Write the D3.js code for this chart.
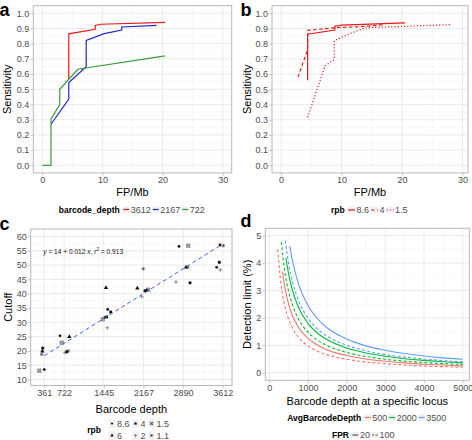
<!DOCTYPE html>
<html><head><meta charset="utf-8">
<script src="https://cdn.jsdelivr.net/npm/d3@7"></script>
<style>body{margin:0;background:#fff}svg{display:block}</style>
</head><body><svg id="chart" width="472" height="440"></svg>
<script>
// ---------- DATA ----------
// Panel a: sensitivity vs FP/Mb by barcode depth
const aDepths = ["3612", "2167", "722"];
const aFP_3612 = [4.4, 4.4, 8.8, 8.8, 9.7, 20.4];
const aSens_3612 = [0.565, 0.865, 0.895, 0.92, 0.928, 0.94];
const aFP_2167 = [1.45, 4.4, 4.4, 7.3, 7.3, 10.3, 13.2, 13.2, 19.0];
const aSens_2167 = [0.27, 0.435, 0.545, 0.648, 0.822, 0.866, 0.89, 0.91, 0.92];
const aFP_722 = [0, 1.45, 1.45, 2.9, 2.9, 5.9, 20.4];
const aSens_722 = [0, 0, 0.305, 0.4, 0.5, 0.632, 0.72];
const aXTicks = [0, 10, 20, 30];
const yTicksSens = [0, 0.1, 0.2, 0.3, 0.4, 0.5, 0.6, 0.7, 0.8, 0.9, 1.0];

// Panel b: sensitivity vs FP/Mb by rpb
const bRpb = ["8.6", "4", "1.5"];
const bFP_86 = [4.4, 4.4, 8.9, 8.9, 10, 20.5];
const bSens_86 = [0.56, 0.862, 0.89, 0.915, 0.922, 0.937];
const bFP_4 = [2.8, 4.4, 4.4, 9, 13, 17];
const bSens_4 = [0.58, 0.76, 0.888, 0.905, 0.912, 0.925];
const bFP_15 = [4.4, 7.3, 8.8, 8.8, 11.5, 14, 28];
const bSens_15 = [0.315, 0.655, 0.695, 0.82, 0.868, 0.905, 0.925];

// Panel c: cutoff vs barcode depth
const cXTicks = [361, 722, 1445, 2167, 2890, 3612];
const cYTicks = [10, 15, 20, 25, 30, 35, 40, 45, 50, 55, 60];
const cRpbLevels = ["8.6", "6", "4", "2", "1.5", "1.1"];
const cDepth = [361, 270, 332, 325, 314,
  647, 678, 817, 738, 769, 798,
  1485, 1516, 1571, 1425, 1467, 1498, 1509,
  2165, 2056, 2196, 2227, 2256, 2136,
  2815, 2985, 2943, 2974, 2761, 3016,
  3563, 3623, 3550, 3502, 3568];
const cCutoff = [13.5, 13.1, 21.0, 19.9, 18.8,
  25.3, 22.9, 25.0, 19.4, 19.7, 20.0,
  42.1, 34.5, 33.6, 31.05, 31.75, 31.85, 28.1,
  48.7, 41.9, 41.0, 41.2, 41.4, 38.9,
  56.5, 56.75, 49.2, 49.2, 44.1, 43.8,
  57.0, 56.75, 50.96, 49.2, 48.3];
const cRpb = ["8.6", "1.5", "4", "6", "1.1",
  "8.6", "1.5", "6", "2", "4", "1.1",
  "6", "8.6", "4", "1.5", "8.6", "4", "2",
  "1.1", "6", "4", "8.6", "1.5", "2",
  "8.6", "1.5", "6", "1.1", "2", "4",
  "8.6", "1.1", "4", "8.6", "2"];
const cFitIntercept = 14, cFitSlope = 0.012, cFitR2 = 0.913;
const cFitRange = [361, 3612];

// Panel d: detection limit vs barcode depth at locus
const dAvgDepth = ["500", "2000", "3500"];
const dFPR = ["20", "100"];
const dX_500_20 = [340, 400, 500, 600, 750, 1000, 1250, 1500, 2000, 2500, 3000, 3500, 4000, 4500, 5000];
const dY_500_20 = [3.68, 3.13, 2.50, 2.08, 1.67, 1.25, 1.00, 0.83, 0.63, 0.50, 0.42, 0.36, 0.31, 0.28, 0.25];
const dX_500_100 = [217, 300, 400, 500, 600, 750, 1000, 1250, 1500, 2000, 2500, 3000, 3500, 4000, 4500, 5000];
const dY_500_100 = [4.50, 3.26, 2.44, 1.95, 1.63, 1.30, 0.98, 0.78, 0.65, 0.49, 0.39, 0.33, 0.28, 0.24, 0.22, 0.20];
const dX_2000_20 = [430, 500, 600, 750, 1000, 1250, 1500, 2000, 2500, 3000, 3500, 4000, 4500, 5000];
const dY_2000_20 = [4.19, 3.60, 3.00, 2.40, 1.80, 1.44, 1.20, 0.90, 0.72, 0.60, 0.51, 0.45, 0.40, 0.36];
const dX_2000_100 = [310, 400, 500, 600, 750, 1000, 1250, 1500, 2000, 2500, 3000, 3500, 4000, 4500, 5000];
const dY_2000_100 = [4.77, 3.70, 2.96, 2.47, 1.97, 1.48, 1.18, 0.99, 0.74, 0.59, 0.49, 0.42, 0.37, 0.33, 0.30];
const dX_3500_20 = [530, 600, 750, 1000, 1250, 1500, 2000, 2500, 3000, 3500, 4000, 4500, 5000];
const dY_3500_20 = [4.62, 4.08, 3.27, 2.45, 1.96, 1.63, 1.23, 0.98, 0.82, 0.70, 0.61, 0.54, 0.49];
const dX_3500_100 = [413, 500, 600, 750, 1000, 1250, 1500, 2000, 2500, 3000, 3500, 4000, 4500, 5000];
const dY_3500_100 = [4.82, 3.98, 3.32, 2.65, 1.99, 1.59, 1.33, 1.00, 0.80, 0.66, 0.57, 0.50, 0.44, 0.40];
const dXTicks = [0, 1000, 2000, 3000, 4000, 5000];
const dYTicks = [0, 1, 2, 3, 4, 5];

// ---------- DRAWING ----------
const FONT = '"Liberation Sans", Arial, Helvetica, sans-serif';
const svg = d3.select("#chart");
const GRID_MAJ = "#E6E6E6", GRID_MIN = "#F2F2F2", BORDER = "#B8B8B8", TXT = "#4D4D4D";

function panel(p) {
  const g = svg.append("g");
  g.append("rect").attr("x", p.x0).attr("y", p.y0).attr("width", p.x1 - p.x0).attr("height", p.y1 - p.y0).attr("fill", "#fff");
  p.xMinor.forEach(v => g.append("line").attr("x1", p.xs(v)).attr("x2", p.xs(v)).attr("y1", p.y0).attr("y2", p.y1).attr("stroke", GRID_MIN).attr("stroke-width", 0.6));
  p.yMinor.forEach(v => g.append("line").attr("y1", p.ys(v)).attr("y2", p.ys(v)).attr("x1", p.x0).attr("x2", p.x1).attr("stroke", GRID_MIN).attr("stroke-width", 0.6));
  p.xMajor.forEach(v => g.append("line").attr("x1", p.xs(v)).attr("x2", p.xs(v)).attr("y1", p.y0).attr("y2", p.y1).attr("stroke", GRID_MAJ).attr("stroke-width", 0.8));
  p.yMajor.forEach(v => g.append("line").attr("y1", p.ys(v)).attr("y2", p.ys(v)).attr("x1", p.x0).attr("x2", p.x1).attr("stroke", GRID_MAJ).attr("stroke-width", 0.8));
  const style = s => {
    s.attr("font-family", FONT).attr("font-size", 9);
    s.select(".domain").remove();
    s.selectAll(".tick line").attr("stroke", BORDER).attr("stroke-width", 0.8);
    s.selectAll(".tick text").attr("fill", TXT);
  };
  g.append("g").attr("transform", `translate(0,${p.y1})`)
    .call(d3.axisBottom(p.xs).tickValues(p.xMajor).tickFormat(p.xFmt).tickSize(2.75).tickPadding(1.3)).call(style);
  g.append("g").attr("transform", `translate(${p.x0},0)`)
    .call(d3.axisLeft(p.ys).tickValues(p.yMajor).tickFormat(p.yFmt).tickSize(2.75).tickPadding(1.3)).call(style);
  svg.append("text").attr("x", (p.x0 + p.x1) / 2).attr("y", p.xTitleY).attr("text-anchor", "middle")
    .attr("font-family", FONT).attr("font-size", 11).attr("fill", "#000").text(p.xTitle);
  svg.append("text").attr("transform", `translate(${p.yTitleX},${(p.y0 + p.y1) / 2}) rotate(-90)`).attr("text-anchor", "middle")
    .attr("font-family", FONT).attr("font-size", 11).attr("fill", "#000").text(p.yTitle);
  p.g = g;
  return p;
}
function border(p) {
  svg.append("rect").attr("x", p.x0).attr("y", p.y0).attr("width", p.x1 - p.x0).attr("height", p.y1 - p.y0)
    .attr("fill", "none").attr("stroke", BORDER).attr("stroke-width", 1);
}
function letter(t, x, y) {
  svg.append("text").attr("x", x).attr("y", y).attr("font-family", FONT).attr("font-weight", "bold").attr("font-size", 18).text(t);
}
function mids(arr) { const r = []; for (let i = 0; i < arr.length - 1; i++) r.push((arr[i] + arr[i + 1]) / 2); return r; }

// Horizontal legend, centred at cx
function hLegend(cx, cy, title, labels, keyW, keyH, drawKey) {
  const g = svg.append("g");
  let x = 0;
  const tt = g.append("text").attr("x", 0).attr("y", cy + 3).attr("font-family", FONT).attr("font-weight", "bold").attr("font-size", 8.5).text(title);
  x = tt.node().getComputedTextLength() + 3;
  labels.forEach((lab, i) => {
    const kg = g.append("g").attr("transform", `translate(${x},${cy - keyH / 2})`);
    kg.append("rect").attr("width", keyW).attr("height", keyH).attr("fill", "#F0F0F0").attr("stroke", "#fff").attr("stroke-width", 0.5);
    drawKey(kg, i, keyW, keyH);
    x += keyW + 1;
    const t = g.append("text").attr("x", x).attr("y", cy + 3.2).attr("font-family", FONT).attr("font-size", 9).attr("fill", TXT).text(lab);
    x += t.node().getComputedTextLength() + 1.5;
  });
  g.attr("transform", `translate(${cx - x / 2},0)`);
}

// ---- Panel a ----
const pa = panel({
  x0: 33.3, x1: 231.7, y0: 5.7, y1: 172.9,
  xs: d3.scaleLinear().domain([-1.5, 31.5]).range([33.3, 231.7]),
  ys: d3.scaleLinear().domain([-0.05, 1.05]).range([172.9, 5.7]),
  xMajor: aXTicks, xMinor: mids(aXTicks), yMajor: yTicksSens, yMinor: mids(yTicksSens),
  xFmt: d3.format("d"), yFmt: d3.format(".1f"),
  xTitle: "FP/Mb", xTitleY: 196, yTitle: "Sensitivity", yTitleX: 11
});
const aColors = ["#E8191B", "#1F27CF", "#3C9A3A"];
const aLine = d3.line().x(d => pa.xs(d[0])).y(d => pa.ys(d[1]));
[[aFP_3612, aSens_3612], [aFP_2167, aSens_2167], [aFP_722, aSens_722]].forEach((s, i) => {
  svg.append("path").attr("d", aLine(d3.zip(s[0], s[1]))).attr("fill", "none").attr("stroke", aColors[i]).attr("stroke-width", 1.2);
});
border(pa);
hLegend(132.5, 209.5, "barcode_depth", aDepths, 7, 7, (kg, i, w, h) => {
  kg.append("line").attr("x1", 0.5).attr("x2", w - 0.5).attr("y1", h / 2).attr("y2", h / 2).attr("stroke", aColors[i]).attr("stroke-width", 1.2);
});
letter("a", -0.5, 16);

// ---- Panel b ----
const pb = panel({
  x0: 272, x1: 468, y0: 5.7, y1: 172.9,
  xs: d3.scaleLinear().domain([0, 30]).range([281, 462.5]),
  ys: d3.scaleLinear().domain([-0.05, 1.05]).range([172.9, 5.7]),
  xMajor: aXTicks, xMinor: mids(aXTicks), yMajor: yTicksSens, yMinor: mids(yTicksSens),
  xFmt: d3.format("d"), yFmt: d3.format(".1f"),
  xTitle: "FP/Mb", xTitleY: 196, yTitle: "Sensitivity", yTitleX: 250.5
});
const bDash = [null, "3.5,2.5", "1.2,2"];
const bLine = d3.line().x(d => pb.xs(d[0])).y(d => pb.ys(d[1]));
[[bFP_86, bSens_86], [bFP_4, bSens_4], [bFP_15, bSens_15]].forEach((s, i) => {
  svg.append("path").attr("d", bLine(d3.zip(s[0], s[1]))).attr("fill", "none").attr("stroke", "#E41A1C")
    .attr("stroke-width", 1.2).attr("stroke-dasharray", bDash[i]);
});
border(pb);
hLegend(370, 210, "rpb", bRpb, 8, 7, (kg, i, w, h) => {
  kg.append("line").attr("x1", 0.5).attr("x2", w - 0.5).attr("y1", h / 2).attr("y2", h / 2).attr("stroke", "#E41A1C")
    .attr("stroke-width", 1.2).attr("stroke-dasharray", bDash[i]);
});
letter("b", 240.5, 16);

// ---- Panel c ----
const pc = panel({
  x0: 30.7, x1: 232, y0: 229, y1: 385.5,
  xs: d3.scaleLinear().domain([361, 3612]).range([44.3, 222.7]),
  ys: d3.scaleLinear().domain([10, 60]).range([379.6, 236.4]),
  xMajor: cXTicks, xMinor: mids(cXTicks), yMajor: cYTicks, yMinor: mids(cYTicks),
  xFmt: d3.format("d"), yFmt: d3.format("d"),
  xTitle: "Barcode depth", xTitleY: 413, yTitle: "Cutoff", yTitleX: 12
});
const PT = "#111";
function drawShape(g, shape, x, y, s) {
  const k = s || 1;
  if (shape === 0) g.append("circle").attr("cx", x).attr("cy", y).attr("r", 1.4 * k).attr("fill", PT);
  else if (shape === 1) g.append("path").attr("transform", `translate(${x},${y})`).attr("d", d3.symbol(d3.symbolTriangle, 8 * k * k)()).attr("fill", PT);
  else if (shape === 2) g.append("rect").attr("x", x - 1.4 * k).attr("y", y - 1.4 * k).attr("width", 2.8 * k).attr("height", 2.8 * k).attr("fill", PT);
  else if (shape === 3) {
    g.append("path").attr("d", `M${x - 2 * k},${y}H${x + 2 * k}M${x},${y - 2 * k}V${y + 2 * k}`).attr("stroke", "#555").attr("stroke-width", 0.6);
  } else if (shape === 4) {
    const r = 1.6 * k;
    g.append("path").attr("d", `M${x - r},${y - r}h${2 * r}v${2 * r}h${-2 * r}zM${x - r},${y - r}L${x + r},${y + r}M${x + r},${y - r}L${x - r},${y + r}`)
      .attr("fill", "none").attr("stroke", "#333").attr("stroke-width", 0.55);
  } else {
    const r = 1.9 * k, q = 1.35 * k;
    g.append("path").attr("d", `M${x - r},${y}H${x + r}M${x},${y - r}V${y + r}M${x - q},${y - q}L${x + q},${y + q}M${x + q},${y - q}L${x - q},${y + q}`)
      .attr("stroke", "#333").attr("stroke-width", 0.55);
  }
}
const cPts = svg.append("g");
cDepth.forEach((d, i) => drawShape(cPts, cRpbLevels.indexOf(cRpb[i]), pc.xs(d), pc.ys(cCutoff[i])));
const fitLine = d3.line().x(d => pc.xs(d)).y(d => pc.ys(cFitIntercept + cFitSlope * d));
svg.append("path").attr("d", fitLine(cFitRange)).attr("fill", "none").attr("stroke", "#3366FF").attr("stroke-width", 1).attr("stroke-dasharray", "4,3");
const ft = svg.append("text").attr("x", 43.3).attr("y", 253.5).attr("font-family", FONT).attr("font-size", 6.6).attr("fill", "#111");
ft.append("tspan").attr("font-style", "italic").text("y");
ft.append("tspan").text(" = " + cFitIntercept + " + " + cFitSlope + " ");
ft.append("tspan").attr("font-style", "italic").text("x");
ft.append("tspan").text(",  ");
ft.append("tspan").attr("font-style", "italic").text("r");
ft.append("tspan").attr("font-size", 4.6).attr("dy", -2.5).text("2");
ft.append("tspan").attr("dy", 2.5).text(" = " + cFitR2);
border(pc);
// c legend (2 rows x 3 cols, column-major)
(function () {
  const g = svg.append("g");
  const t = g.append("text").attr("x", 0).attr("y", 433).attr("font-family", FONT).attr("font-weight", "bold").attr("font-size", 8.5).text("rpb");
  let x = t.node().getComputedTextLength() + 7.5;
  const rows = [423.5, 435.5];
  for (let c = 0; c < 3; c++) {
    let maxW = 0;
    for (let r = 0; r < 2; r++) {
      const idx = c * 2 + r;
      g.append("rect").attr("x", x).attr("y", rows[r] - 4.5).attr("width", 7).attr("height", 9).attr("fill", "#F0F0F0").attr("stroke", "#fff").attr("stroke-width", 0.5);
      drawShape(g, idx, x + 3.5, rows[r], 0.8);
      const tx = g.append("text").attr("x", x + 8.5).attr("y", rows[r] + 3.2).attr("font-family", FONT).attr("font-size", 9).attr("fill", TXT).text(cRpbLevels[idx]);
      maxW = Math.max(maxW, tx.node().getComputedTextLength());
    }
    x += 8.5 + maxW + 2.5;
  }
  g.attr("transform", `translate(${87.3},0)`);
})();
letter("c", -0.5, 229.5);

// ---- Panel d ----
const pd = panel({
  x0: 265.3, x1: 469.3, y0: 228.3, y1: 380.3,
  xs: d3.scaleLinear().domain([0, 5000]).range([269.3, 462.7]),
  ys: d3.scaleLinear().domain([0, 5]).range([372.7, 235.7]),
  xMajor: dXTicks, xMinor: mids(dXTicks), yMajor: dYTicks, yMinor: mids(dYTicks),
  xFmt: d3.format("d"), yFmt: d3.format("d"),
  xTitle: "Barcode depth at a specific locus", xTitleY: 405, yTitle: "Detection limit (%)", yTitleX: 251
});
const dColors = ["#F8766D", "#00BA38", "#619CFF"];
const dDash = [null, "3,2.2"];
const dLine = d3.line().curve(d3.curveMonotoneX).x(d => pd.xs(d[0])).y(d => pd.ys(d[1]));
const dCurves = [
  [dX_500_20, dY_500_20, 0, 0], [dX_500_100, dY_500_100, 0, 1],
  [dX_2000_20, dY_2000_20, 1, 0], [dX_2000_100, dY_2000_100, 1, 1],
  [dX_3500_20, dY_3500_20, 2, 0], [dX_3500_100, dY_3500_100, 2, 1]
];
dCurves.forEach(c => {
  svg.append("path").attr("d", dLine(d3.zip(c[0], c[1]))).attr("fill", "none").attr("stroke", dColors[c[2]])
    .attr("stroke-width", 1.1).attr("stroke-dasharray", dDash[c[3]]);
});
border(pd);
hLegend(367.5, 417.5, "AvgBarcodeDepth", dAvgDepth, 7, 7, (kg, i, w, h) => {
  kg.append("line").attr("x1", 0.5).attr("x2", w - 0.5).attr("y1", h / 2).attr("y2", h / 2).attr("stroke", dColors[i]).attr("stroke-width", 1.2);
});
hLegend(364, 435, "FPR", dFPR, 7, 7, (kg, i, w, h) => {
  kg.append("line").attr("x1", 0.5).attr("x2", w - 0.5).attr("y1", h / 2).attr("y2", h / 2).attr("stroke", "#555")
    .attr("stroke-width", 1.2).attr("stroke-dasharray", i ? "2,1.5" : null);
});
letter("d", 240.5, 227);
</script>
</body></html>
